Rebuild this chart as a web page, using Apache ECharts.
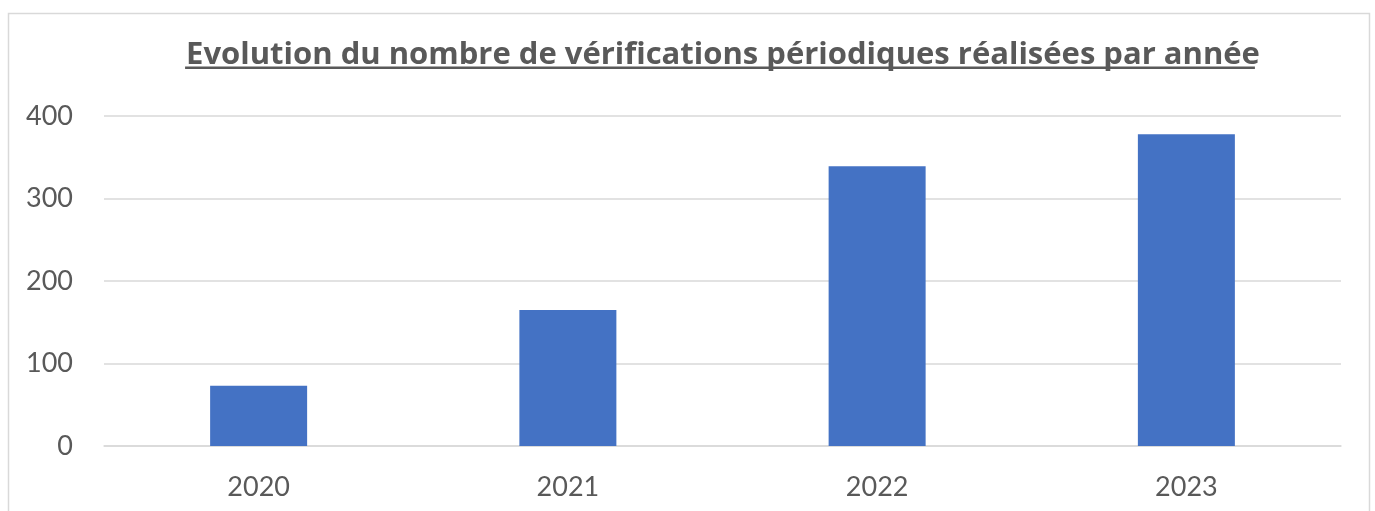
<!DOCTYPE html>
<html>
<head>
<meta charset="utf-8">
<script src="https://cdn.jsdelivr.net/npm/echarts@6/dist/echarts.min.js"></script>
<style>
  html, body { margin: 0; padding: 0; background: #ffffff; }
  #chart { width: 1375px; height: 511px; }
</style>
</head>
<body>
<div id="chart"></div>
<script>
// Number of periodic checks carried out each year
const years = ['2020', '2021', '2022', '2023'];
const checks = [73, 165, 339, 378];
const titleText = 'Evolution du nombre de vérifications périodiques réalisées par année';

const FONT = 'Lato, "Open Sans", sans-serif';
const TITLE_FONT = '"Open Sans", Lato, sans-serif';
const TEXT_COLOR = '#595959';
const GRID_COLOR = '#d9d9d9';

// Title geometry: centred over the plot area, sized to a fixed run width, underlined
const titleCenterX = 718;
const titleTargetWidth = 1074;
const measure = document.createElement('canvas').getContext('2d');
measure.font = 'bold 30px ' + TITLE_FONT;
const titleSize = Math.round(30 * titleTargetWidth / measure.measureText(titleText).width * 10) / 10;
measure.font = 'bold ' + titleSize + 'px ' + TITLE_FONT;
const titleWidth = measure.measureText(titleText).width;

const chart = echarts.init(document.getElementById('chart'), null, { renderer: 'canvas' });

chart.setOption({
  backgroundColor: '#ffffff',
  animation: false,
  title: {
    text: titleText,
    left: titleCenterX,
    top: 35,
    textAlign: 'center',
    textStyle: {
      fontFamily: TITLE_FONT,
      fontWeight: 'bold',
      fontSize: titleSize,
      color: TEXT_COLOR
    }
  },
  graphic: [
    {
      type: 'rect',
      silent: true,
      shape: { x: 8.5, y: 13.5, width: 1361, height: 520 },
      style: { fill: 'none', stroke: GRID_COLOR, lineWidth: 1.5 }
    },
    {
      type: 'rect',
      silent: true,
      shape: { x: titleCenterX - titleWidth / 2 + 4, y: 66.5, width: titleWidth - 4, height: 2.5 },
      style: { fill: TEXT_COLOR }
    }
  ],
  grid: {
    left: 104,
    right: 34,
    top: 116,
    bottom: 65,
    containLabel: false
  },
  xAxis: {
    type: 'category',
    data: years,
    axisLine: { show: true, lineStyle: { color: GRID_COLOR, width: 1.5 } },
    axisTick: { show: false },
    axisLabel: {
      color: TEXT_COLOR,
      fontFamily: FONT,
      fontSize: 27,
      margin: 28
    }
  },
  yAxis: {
    type: 'value',
    min: 0,
    max: 400,
    interval: 100,
    axisLine: { show: false },
    axisTick: { show: false },
    splitLine: { lineStyle: { color: GRID_COLOR, width: 1.5 } },
    axisLabel: {
      color: TEXT_COLOR,
      fontFamily: FONT,
      fontSize: 27,
      margin: 31
    }
  },
  series: [
    {
      type: 'bar',
      data: checks,
      barWidth: 97,
      itemStyle: { color: '#4472C4' }
    }
  ]
});
</script>
</body>
</html>
